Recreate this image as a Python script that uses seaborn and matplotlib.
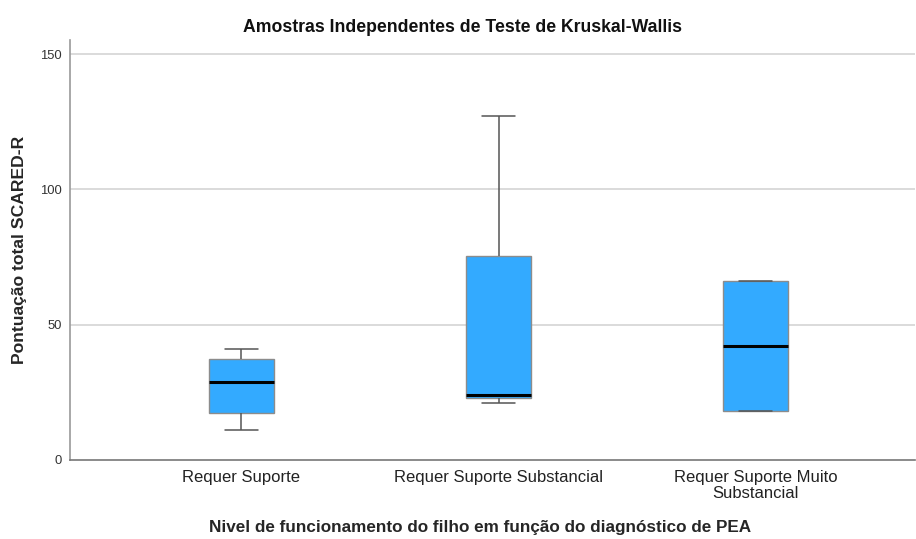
import matplotlib
matplotlib.use("Agg")
import matplotlib.pyplot as plt
import seaborn as sns
import pandas as pd

categories = ["Requer Suporte", "Requer Suporte Substancial", "Requer Suporte Muito\nSubstancial"]
# five-number summaries: min, Q1, median, Q3, max
g1 = [11.2, 17.2, 28.7, 37.4, 41.0]
g2 = [21.2, 22.8, 24.1, 75.5, 127.0]
g3 = [18.2, 18.2, 42.1, 66.0, 66.0]
yticks = [0, 50, 100, 150]

rows = []
for cat, vals in zip(categories, [g1, g2, g3]):
    for v in vals:
        rows.append({"grupo": cat, "score": v})
df = pd.DataFrame(rows)

sns.set_style("white")
plt.rcParams['font.family'] = ['Liberation Sans', 'DejaVu Sans']

fig = plt.figure(figsize=(9.16, 5.39), dpi=100)
ax = fig.add_axes([0.0764, 0.1466, 0.9226, 0.7792])

for y in yticks[1:]:
    ax.axhline(y, color="#d4d4d4", lw=1.2, zorder=0)

sns.boxplot(data=df, x="grupo", y="score", order=categories, ax=ax,
            width=0.253, whis=1.5, color="#33aaff", saturation=1,
            linecolor="#555555", linewidth=1.0,
            boxprops=dict(facecolor="#33aaff", edgecolor="#8c8c8c", zorder=2),
            medianprops=dict(color="black", linewidth=2.2),
            whiskerprops=dict(color="#555555", linewidth=1.1),
            capprops=dict(color="#555555", linewidth=1.1),
            showfliers=False)

ax.set_xlim(-0.667, 2.62)
ax.set_ylim(0, 155.2)
ax.set_yticks(yticks)
ax.set_yticklabels([str(t) for t in yticks], fontsize=9.4, color="#333333")
ax.tick_params(axis="y", length=3, color="#999999", pad=3)
ax.tick_params(axis="x", length=0, pad=7.5, labelsize=12)
for lbl in ax.get_xticklabels():
    lbl.set_linespacing(1.05)
    lbl.set_color("#222222")

for s in ["top", "right"]:
    ax.spines[s].set_visible(False)
ax.spines["left"].set_color("#999999")
ax.spines["left"].set_linewidth(1.2)
ax.spines["bottom"].set_color("#777777")
ax.spines["bottom"].set_linewidth(1.2)

ax.set_title("Amostras Independentes de Teste de Kruskal-Wallis", fontsize=12.7,
             fontweight="bold", pad=6, color="#111111", x=0.465)
ax.set_ylabel("Pontuação total SCARED-R", fontsize=12.6, fontweight="bold", labelpad=9)
ax.set_xlabel("Nivel de funcionamento do filho em função do diagnóstico de PEA",
              fontsize=12.35, fontweight="bold", labelpad=14, x=0.485)

fig.savefig("out.png", dpi=100)
